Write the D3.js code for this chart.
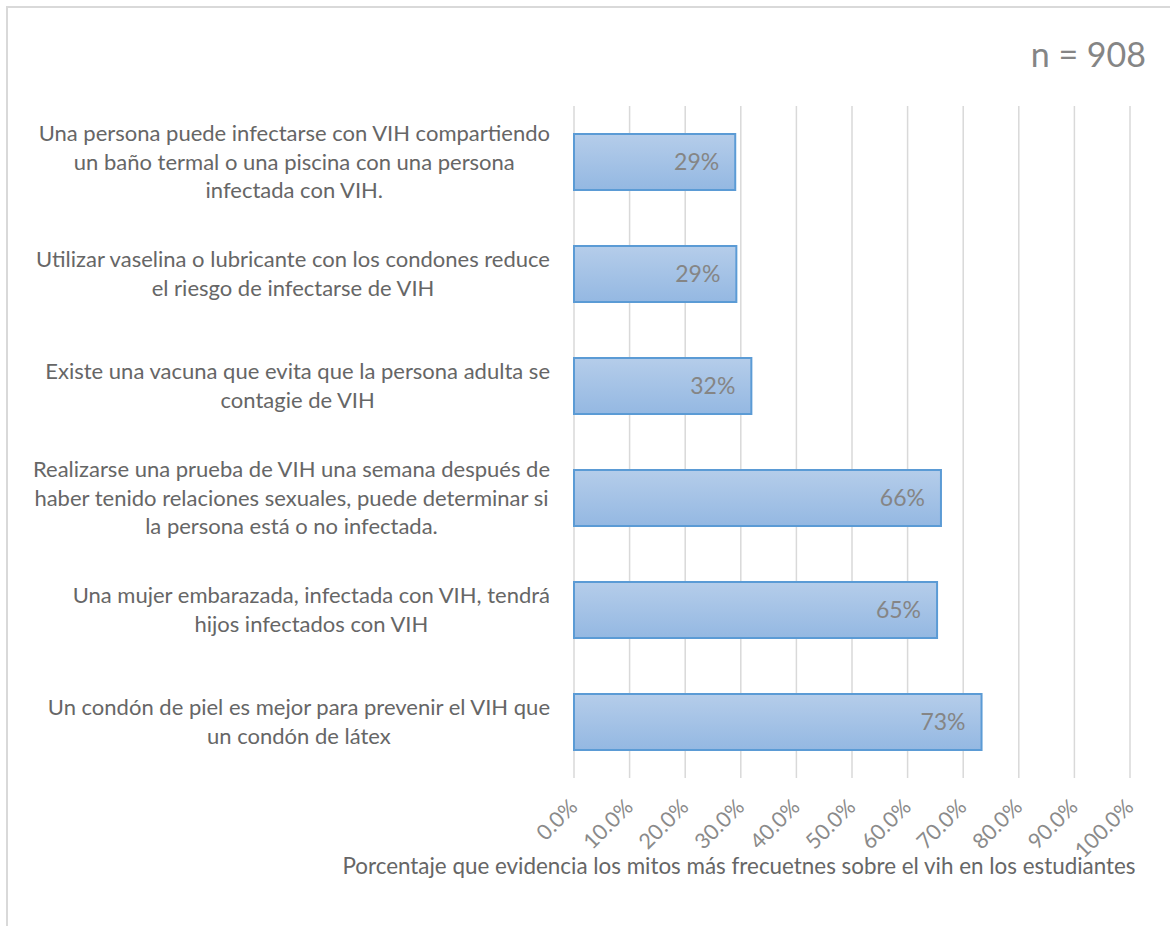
<!DOCTYPE html>
<html>
<head>
<meta charset="utf-8">
<script src="https://cdn.jsdelivr.net/npm/d3@7"></script>
<style>
  html, body { margin: 0; padding: 0; background: #fff; }
  svg { display: block; }
  text { font-family: Lato, "Open Sans", sans-serif; }
</style>
</head>
<body>
<svg id="chart" width="1170" height="926"></svg>
<script>
// ---- data ----
const categories = [
  ["Una persona puede infectarse con VIH compartiendo", "un baño termal o una piscina con una persona", "infectada con VIH."],
  ["Utilizar vaselina o lubricante con los condones reduce", "el riesgo de infectarse de VIH"],
  ["Existe una vacuna que evita que la persona adulta se", "contagie de VIH"],
  ["Realizarse una prueba de VIH una semana después de", "haber tenido relaciones sexuales, puede determinar si", "la persona está o no infectada."],
  ["Una mujer embarazada, infectada con VIH, tendrá", "hijos infectados con VIH"],
  ["Un condón de piel es mejor para prevenir el VIH que", "un condón de látex"]
];
const values = [0.290, 0.292, 0.319, 0.660, 0.653, 0.733];
const dataLabels = ["29%", "29%", "32%", "66%", "65%", "73%"];
const tickValues = [0, 0.1, 0.2, 0.3, 0.4, 0.5, 0.6, 0.7, 0.8, 0.9, 1.0];
const axisTitle = "Porcentaje que evidencia los mitos más frecuetnes sobre el vih en los estudiantes";
const sampleNote = "n = 908";

// ---- layout ----
const svg = d3.select("#chart");
const plot = { left: 574, right: 1130, top: 106, bottom: 778 };

const x = d3.scaleLinear().domain([0, 1]).range([plot.left, plot.right]);
const y = d3.scaleBand().domain(d3.range(categories.length))
  .range([plot.top, plot.bottom]).paddingInner(0.5).paddingOuter(0.25);

// outer border
svg.append("rect").attr("x", 7).attr("y", 7).attr("width", 1300).attr("height", 1100)
  .attr("fill", "none").attr("stroke", "#d9d9d9").attr("stroke-width", 2);

// gradient
const defs = svg.append("defs");
const grad = defs.append("linearGradient").attr("id", "barGrad")
  .attr("x1", 0).attr("y1", 0).attr("x2", 0).attr("y2", 1);
grad.append("stop").attr("offset", "0%").attr("stop-color", "#b5cdea");
grad.append("stop").attr("offset", "100%").attr("stop-color", "#94b8e2");

// gridlines
svg.append("g").selectAll("line").data(tickValues).join("line")
  .attr("x1", d => x(d)).attr("x2", d => x(d))
  .attr("y1", plot.top).attr("y2", plot.bottom)
  .attr("stroke", "#d9d9d9").attr("stroke-width", 1.5);

// x axis tick labels (rotated)
const xAxis = d3.axisBottom(x).tickValues(tickValues).tickSize(0).tickFormat(d3.format(".1%"));
const gx = svg.append("g").attr("transform", `translate(0,${plot.bottom})`).call(xAxis);
gx.select(".domain").remove();
gx.selectAll(".tick text")
  .attr("font-family", "Lato, 'Open Sans', sans-serif")
  .attr("font-size", 21.5).attr("fill", "#8a8a8a")
  .attr("text-anchor", "end")
  .attr("x", 0).attr("y", 0).attr("dy", "0.35em")
  .attr("transform", "translate(-1,25) rotate(-45)");

// bars
svg.append("g").selectAll("rect").data(values).join("rect")
  .attr("x", x(0))
  .attr("y", (d, i) => y(i))
  .attr("width", d => x(d) - x(0))
  .attr("height", y.bandwidth())
  .attr("fill", "url(#barGrad)")
  .attr("stroke", "#5b9bd5").attr("stroke-width", 2);

// data labels
svg.append("g").selectAll("text").data(values).join("text")
  .attr("x", d => x(d) - 16)
  .attr("y", (d, i) => y(i) + y.bandwidth() / 2)
  .attr("dy", "0.35em")
  .attr("text-anchor", "end")
  .attr("font-size", 23).attr("fill", "#858585")
  .text((d, i) => dataLabels[i]);

// category labels (centered block, right aligned to axis)
const lineH = 28.5;
const catG = svg.append("g");
categories.forEach((lines, i) => {
  const g = catG.append("g");
  const texts = g.selectAll("text").data(lines).join("text")
    .attr("font-size", 22).attr("fill", "#666666")
    .attr("text-anchor", "middle")
    .attr("dy", "0.35em")
    .text(d => d);
  let maxW = 0;
  texts.each(function() { maxW = Math.max(maxW, this.getComputedTextLength()); });
  const cx = 550 - maxW / 2;
  const cy = y(i) + y.bandwidth() / 2;
  texts.attr("x", cx).attr("y", (d, j) => cy + (j - (lines.length - 1) / 2) * lineH);
});

// axis title
svg.append("text").attr("x", 739).attr("y", 866).attr("dy", "0.35em")
  .attr("text-anchor", "middle").attr("font-size", 22.4).attr("fill", "#666666")
  .text(axisTitle);

// sample size note
svg.append("text").attr("x", 1146).attr("y", 55).attr("dy", "0.35em")
  .attr("text-anchor", "end").attr("font-size", 34).attr("fill", "#858585")
  .text(sampleNote);
</script>
</body>
</html>
